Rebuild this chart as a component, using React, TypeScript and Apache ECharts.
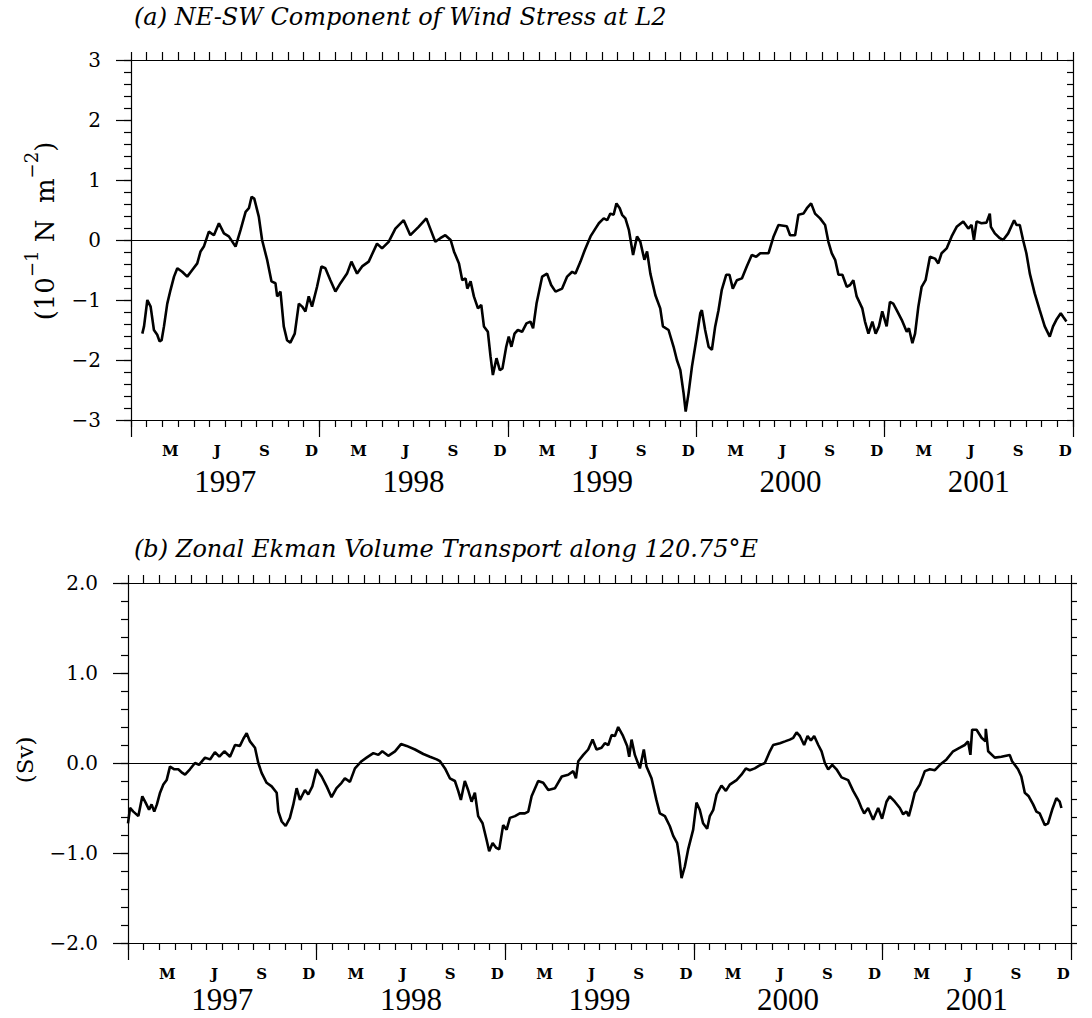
import React, { useEffect, useRef } from "react";
import * as echarts from "echarts";

// ---- texts / categories ----
const panelTitles = [
  "(a) NE-SW Component of Wind Stress at L2",
  "(b) Zonal Ekman Volume Transport along 120.75°E",
];
const yTitleA = ["(10", "−1", " N  m", "−2", ")"];
const yTitleB = "(Sv)";
const monthLetters: Record<number, string> = { 2: "M", 5: "J", 8: "S", 11: "D" };
const yearLabels = ["1997", "1998", "1999", "2000", "2001"];

// ---- data: [months since 1 Jan 1997, value] ----
const windStress: [number, number][] = [
  [0.72, -1.56], [0.83, -1.44], [1.04, -1.0], [1.25, -1.11], [1.46, -1.5], [1.67, -1.58], [1.82, -1.69], [1.95, -1.67],
  [2.1, -1.44], [2.31, -1.06], [2.52, -0.83], [2.74, -0.61], [2.95, -0.47], [3.26, -0.53], [3.58, -0.61], [3.9, -0.5],
  [4.22, -0.39], [4.43, -0.19], [4.64, -0.11], [4.96, 0.14], [5.28, 0.08], [5.6, 0.28], [5.92, 0.11], [6.23, 0.06],
  [6.66, -0.11], [6.98, 0.17], [7.3, 0.47], [7.51, 0.53], [7.68, 0.72], [7.85, 0.69], [8.14, 0.39], [8.35, 0.0],
  [8.67, -0.33], [8.95, -0.69], [9.2, -0.72], [9.31, -0.94], [9.52, -0.86], [9.73, -1.44], [9.94, -1.67], [10.15, -1.71],
  [10.43, -1.56], [10.69, -1.06], [10.9, -1.11], [11.11, -1.19], [11.32, -0.94], [11.53, -1.11], [11.85, -0.78], [12.13, -0.44],
  [12.38, -0.47], [12.7, -0.67], [13.02, -0.86], [13.34, -0.72], [13.76, -0.56], [14.04, -0.36], [14.4, -0.56], [14.72, -0.44],
  [15.14, -0.36], [15.67, -0.06], [15.99, -0.14], [16.41, -0.03], [16.84, 0.19], [17.37, 0.33], [17.79, 0.08], [18.32, 0.22],
  [18.81, 0.36], [19.06, 0.19], [19.38, -0.03], [19.7, 0.03], [20.02, 0.08], [20.36, 0.0], [20.57, -0.19], [20.89, -0.39],
  [21.1, -0.67], [21.31, -0.64], [21.42, -0.81], [21.63, -0.69], [21.84, -0.94], [22.1, -1.14], [22.31, -1.08], [22.48, -1.44],
  [22.73, -1.53], [22.9, -1.94], [23.05, -2.25], [23.28, -1.97], [23.49, -2.17], [23.66, -2.14], [23.9, -1.78], [24.06, -1.61],
  [24.23, -1.78], [24.43, -1.56], [24.64, -1.5], [24.91, -1.53], [25.19, -1.39], [25.44, -1.36], [25.61, -1.47], [25.83, -1.06],
  [26.19, -0.61], [26.5, -0.56], [26.76, -0.75], [27.04, -0.86], [27.46, -0.81], [27.78, -0.61], [28.1, -0.53], [28.31, -0.56],
  [28.63, -0.36], [28.9, -0.17], [29.27, 0.06], [29.58, 0.19], [29.8, 0.28], [30.11, 0.36], [30.33, 0.33], [30.53, 0.44],
  [30.74, 0.42], [30.92, 0.61], [31.13, 0.53], [31.28, 0.42], [31.49, 0.36], [31.71, 0.17], [31.98, -0.25], [32.23, 0.06],
  [32.44, -0.03], [32.7, -0.33], [32.87, -0.19], [33.08, -0.56], [33.4, -0.92], [33.71, -1.14], [33.88, -1.44], [34.24, -1.5],
  [34.56, -1.78], [34.77, -2.0], [34.99, -2.17], [35.2, -2.56], [35.33, -2.86], [35.51, -2.56], [35.73, -2.11], [36.0, -1.67],
  [36.26, -1.22], [36.36, -1.17], [36.57, -1.5], [36.79, -1.78], [37.0, -1.83], [37.21, -1.44], [37.42, -1.17], [37.63, -0.83],
  [37.91, -0.58], [38.12, -0.58], [38.33, -0.81], [38.59, -0.67], [38.91, -0.64], [39.22, -0.44], [39.54, -0.25], [39.82, -0.28],
  [40.08, -0.22], [40.61, -0.22], [40.93, 0.06], [41.24, 0.25], [41.77, 0.23], [41.98, 0.08], [42.3, 0.08], [42.51, 0.42],
  [42.83, 0.44], [43.05, 0.53], [43.32, 0.61], [43.57, 0.44], [43.89, 0.36], [44.21, 0.25], [44.42, -0.03], [44.63, -0.22],
  [44.85, -0.33], [45.06, -0.58], [45.31, -0.58], [45.59, -0.78], [45.8, -0.75], [46.01, -0.67], [46.22, -0.94], [46.58, -1.14],
  [46.75, -1.36], [46.97, -1.56], [47.22, -1.36], [47.43, -1.56], [47.64, -1.44], [47.85, -1.19], [48.13, -1.44], [48.34, -1.03],
  [48.55, -1.06], [48.77, -1.17], [49.09, -1.33], [49.41, -1.53], [49.55, -1.47], [49.77, -1.72], [49.94, -1.56], [50.15, -1.11],
  [50.36, -0.78], [50.61, -0.67], [50.89, -0.28], [51.21, -0.31], [51.42, -0.39], [51.63, -0.22], [51.95, -0.14], [52.27, 0.06],
  [52.59, 0.22], [53.01, 0.31], [53.33, 0.19], [53.54, 0.25], [53.69, 0.0], [53.86, 0.31], [54.17, 0.28], [54.49, 0.29],
  [54.7, 0.44], [54.77, 0.22], [55.02, 0.11], [55.34, 0.03], [55.55, 0.0], [55.87, 0.11], [56.25, 0.33], [56.4, 0.25],
  [56.61, 0.25], [56.82, 0.0], [57.03, -0.22], [57.25, -0.56], [57.56, -0.89], [57.88, -1.17], [58.2, -1.44], [58.52, -1.61],
  [58.73, -1.44], [58.94, -1.33], [59.22, -1.22], [59.37, -1.28], [59.58, -1.36],
];

const ekmanTransport: [number, number][] = [
  [0.0, -0.67], [0.13, -0.5], [0.34, -0.54], [0.66, -0.59], [0.91, -0.37], [1.12, -0.44], [1.34, -0.52], [1.5, -0.46],
  [1.67, -0.54], [1.84, -0.46], [2.04, -0.33], [2.25, -0.24], [2.46, -0.19], [2.67, -0.04], [2.95, -0.07], [3.2, -0.07],
  [3.46, -0.11], [3.63, -0.13], [3.94, -0.07], [4.26, 0.0], [4.52, -0.02], [4.9, 0.06], [5.22, 0.04], [5.53, 0.12],
  [5.81, 0.07], [6.13, 0.13], [6.49, 0.07], [6.81, 0.2], [7.12, 0.19], [7.34, 0.27], [7.55, 0.33], [7.76, 0.24],
  [8.08, 0.17], [8.29, 0.0], [8.5, -0.11], [8.82, -0.22], [9.14, -0.26], [9.46, -0.33], [9.57, -0.54], [9.78, -0.65],
  [10.03, -0.7], [10.3, -0.61], [10.52, -0.46], [10.73, -0.28], [10.94, -0.41], [11.26, -0.3], [11.47, -0.35], [11.73, -0.26],
  [12.0, -0.07], [12.32, -0.15], [12.64, -0.26], [12.95, -0.38], [13.27, -0.28], [13.59, -0.22], [13.8, -0.17], [14.12, -0.21],
  [14.44, -0.06], [14.86, 0.02], [15.18, 0.06], [15.61, 0.11], [15.93, 0.09], [16.18, 0.13], [16.56, 0.08], [16.99, 0.13],
  [17.37, 0.21], [17.73, 0.19], [18.26, 0.15], [18.79, 0.1], [19.21, 0.07], [19.64, 0.04], [19.85, 0.02], [20.17, -0.06],
  [20.48, -0.17], [20.8, -0.2], [21.01, -0.31], [21.18, -0.41], [21.43, -0.2], [21.64, -0.3], [21.86, -0.43], [22.07, -0.33],
  [22.28, -0.59], [22.56, -0.67], [22.81, -0.85], [22.98, -0.98], [23.2, -0.89], [23.41, -0.94], [23.62, -0.96], [23.87, -0.69],
  [24.09, -0.74], [24.3, -0.61], [24.62, -0.59], [24.93, -0.56], [25.25, -0.56], [25.47, -0.54], [25.68, -0.37], [26.1, -0.2],
  [26.42, -0.22], [26.74, -0.3], [27.17, -0.28], [27.6, -0.15], [28.01, -0.13], [28.33, -0.09], [28.5, -0.17], [28.65, 0.02],
  [28.97, 0.09], [29.28, 0.15], [29.56, 0.26], [29.81, 0.15], [30.13, 0.17], [30.34, 0.22], [30.56, 0.2], [30.77, 0.31],
  [30.98, 0.3], [31.19, 0.4], [31.47, 0.31], [31.76, 0.19], [31.89, 0.07], [32.04, 0.26], [32.25, 0.09], [32.57, -0.06],
  [32.82, 0.15], [32.99, -0.04], [33.31, -0.17], [33.62, -0.41], [33.84, -0.56], [34.16, -0.59], [34.47, -0.7], [34.69, -0.81],
  [34.94, -0.89], [35.07, -1.04], [35.22, -1.28], [35.43, -1.15], [35.64, -0.96], [35.96, -0.74], [36.17, -0.44], [36.38, -0.52],
  [36.59, -0.67], [36.85, -0.73], [37.02, -0.59], [37.24, -0.52], [37.45, -0.35], [37.76, -0.25], [38.04, -0.31], [38.29, -0.24],
  [38.72, -0.19], [39.03, -0.13], [39.31, -0.06], [39.56, -0.08], [39.88, -0.06], [40.16, -0.03], [40.52, 0.0], [40.84, 0.13],
  [41.05, 0.2], [41.48, 0.22], [41.8, 0.24], [42.11, 0.26], [42.33, 0.28], [42.54, 0.34], [42.75, 0.3], [43.02, 0.2],
  [43.24, 0.3], [43.45, 0.25], [43.66, 0.3], [43.92, 0.2], [44.13, 0.13], [44.34, 0.0], [44.55, -0.07], [44.81, -0.02],
  [45.08, -0.07], [45.4, -0.16], [45.82, -0.19], [46.14, -0.31], [46.46, -0.41], [46.67, -0.5], [46.84, -0.56], [47.09, -0.5],
  [47.41, -0.63], [47.73, -0.5], [47.98, -0.62], [48.26, -0.43], [48.47, -0.37], [48.79, -0.43], [49.11, -0.5], [49.32, -0.57],
  [49.53, -0.54], [49.68, -0.59], [49.85, -0.48], [50.06, -0.33], [50.38, -0.24], [50.7, -0.09], [51.02, -0.07], [51.34, -0.08],
  [51.66, -0.02], [52.08, 0.04], [52.5, 0.13], [52.93, 0.17], [53.24, 0.2], [53.45, 0.24], [53.6, 0.09], [53.71, 0.37],
  [53.99, 0.37], [54.31, 0.28], [54.56, 0.24], [54.58, 0.38], [54.73, 0.13], [55.15, 0.06], [55.57, 0.07], [56.1, 0.09],
  [56.25, 0.02], [56.63, -0.07], [56.84, -0.15], [57.06, -0.33], [57.31, -0.37], [57.59, -0.46], [57.8, -0.54], [58.01, -0.56],
  [58.33, -0.69], [58.54, -0.67], [58.8, -0.52], [59.07, -0.39], [59.28, -0.43], [59.39, -0.5],
];

const SERIF = '"DejaVu Serif", "Liberation Serif", serif';
const YEARFONT = '"Liberation Serif", "DejaVu Serif", serif';
const BLACK = "#000";
const LINE = { color: BLACK, width: 1.2 };

const monthLabelValues: number[] = [];
for (let m = 0; m < 60; m++) if (monthLetters[m % 12]) monthLabelValues.push(m + 0.5);
const yearLabelValues = yearLabels.map((_, i) => i * 12 + 6);
const minusFix = (s: string) => s.replace("-", "\u2212");

function panelAxes(grid: number, yMin: number, yMax: number, decimals: number, rightInside: boolean, yearMargin: number) {
  const xBase = { type: "value", gridIndex: grid, min: 0, max: 60, splitLine: { show: false } };
  const xs = [
    {
      ...xBase,
      position: "bottom",
      interval: 1,
      axisLine: { show: true, onZero: false, lineStyle: LINE },
      axisTick: { show: true, inside: false, length: 7, lineStyle: LINE },
      axisLabel: {
        show: true,
        customValues: monthLabelValues,
        formatter: (v: number) => monthLetters[Math.floor(v) % 12] || "",
        margin: 23,
        fontFamily: SERIF,
        fontSize: 15,
        fontWeight: "bold",
        color: BLACK,
      },
    },
    {
      ...xBase,
      position: "bottom",
      interval: 12,
      axisLine: { show: false, onZero: false },
      axisTick: { show: true, inside: false, length: 17, lineStyle: LINE },
      axisLabel: {
        show: true,
        customValues: yearLabelValues,
        formatter: (v: number) => yearLabels[Math.floor(v / 12)] || "",
        margin: yearMargin,
        fontFamily: YEARFONT,
        fontSize: 31,
        lineHeight: 31,
        color: BLACK,
      },
    },
    {
      ...xBase,
      position: "top",
      interval: 1,
      axisLine: { show: true, onZero: false, lineStyle: LINE },
      axisTick: { show: true, inside: false, length: 8, lineStyle: LINE },
      axisLabel: { show: false },
    },
  ];
  const yBase = { type: "value", gridIndex: grid, min: yMin, max: yMax, splitLine: { show: false } };
  const ys = [
    {
      ...yBase,
      position: "left",
      interval: 1,
      axisLine: { show: true, onZero: false, lineStyle: LINE },
      axisTick: { show: true, inside: false, length: 15, lineStyle: LINE },
      axisLabel: {
        show: true,
        margin: 30,
        formatter: (v: number) => minusFix(v.toFixed(decimals)),
        fontFamily: SERIF,
        fontSize: 20,
        color: BLACK,
      },
    },
    {
      ...yBase,
      position: "left",
      interval: 0.2,
      axisLine: { show: false, onZero: false },
      axisTick: { show: true, inside: false, length: 7, lineStyle: LINE },
      axisLabel: { show: false },
    },
    {
      ...yBase,
      position: "right",
      interval: 0.2,
      axisLine: { show: true, onZero: false, lineStyle: LINE },
      axisTick: { show: true, inside: rightInside, length: 6, lineStyle: LINE },
      axisLabel: { show: false },
    },
  ];
  return { xs, ys };
}

function seriesFor(data: [number, number][], axisIndex: number) {
  return {
    type: "line",
    xAxisIndex: axisIndex,
    yAxisIndex: axisIndex,
    data,
    showSymbol: false,
    symbol: "none",
    lineStyle: { color: BLACK, width: 2.6 },
    z: 3,
    markLine: {
      silent: true,
      symbol: ["none", "none"],
      label: { show: false },
      lineStyle: { color: BLACK, width: 1.2, type: "solid" },
      data: [{ yAxis: 0 }],
    },
  };
}

export default function App() {
  const ref = useRef<HTMLDivElement>(null);
  useEffect(() => {
    if (!ref.current) return;
    const chart = echarts.init(ref.current, null, { renderer: "svg" });
    const a = panelAxes(0, -3, 3, 0, true, 46);
    const b = panelAxes(1, -2, 2, 1, false, 41);
    const titleStyle = { fontFamily: SERIF, fontStyle: "italic", fontSize: 24, fill: BLACK, align: "left", verticalAlign: "middle" };
    chart.setOption({
      animation: false,
      backgroundColor: "#fff",
      grid: [
        { left: 131, top: 60, width: 942, height: 360, containLabel: false, outerBoundsMode: "none" },
        { left: 128, top: 583, width: 943, height: 360, containLabel: false, outerBoundsMode: "none" },
      ],
      xAxis: [...a.xs, ...b.xs],
      yAxis: [...a.ys, ...b.ys],
      series: [seriesFor(windStress, 0), seriesFor(ekmanTransport, 3)],
      graphic: [
        { type: "text", x: 134, y: 17, style: { ...titleStyle, text: panelTitles[0] } },
        { type: "text", x: 134, y: 549, style: { ...titleStyle, text: panelTitles[1] } },
        {
          type: "text",
          x: 40,
          y: 231,
          rotation: Math.PI / 2,
          style: {
            text: `{n|${yTitleA[0]}}{s|${yTitleA[1]}}{n|${yTitleA[2]}}{s|${yTitleA[3]}}{n|${yTitleA[4]}}`,
            align: "center",
            verticalAlign: "middle",
            fill: BLACK,
            rich: {
              n: { fontFamily: SERIF, fontSize: 26, lineHeight: 36, verticalAlign: "bottom", fill: BLACK },
              s: { fontFamily: SERIF, fontSize: 18, lineHeight: 36, verticalAlign: "top", fill: BLACK },
            },
          },
        },
        {
          type: "text",
          x: 25,
          y: 760,
          rotation: Math.PI / 2,
          style: { text: yTitleB, fontFamily: SERIF, fontSize: 23, fill: BLACK, align: "center", verticalAlign: "middle" },
        },
      ],
    });
    return () => chart.dispose();
  }, []);
  return (
    <div
      ref={ref}
      style={{ position: "absolute", left: 0, top: 0, width: 1092, height: 1018, background: "#fff" }}
    />
  );
}
